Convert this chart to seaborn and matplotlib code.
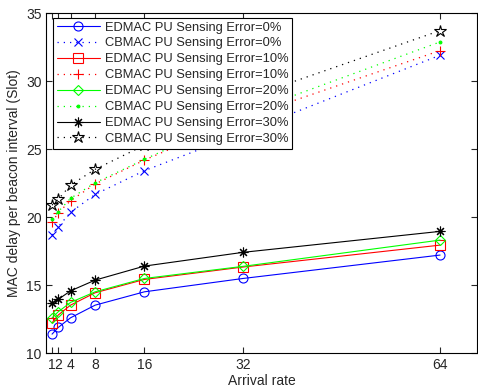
import matplotlib
matplotlib.use("Agg")
import matplotlib.pyplot as plt
import seaborn as sns
import pandas as pd

sns.set_style("ticks")
plt.rcParams["font.family"] = ["Liberation Sans", "DejaVu Sans"]

arrival_rate = [1, 2, 4, 8, 16, 32, 64]
x_ticks = [1, 2, 4, 8, 16, 32, 64]
y_ticks = [10, 15, 20, 25, 30, 35]

edmac_0 = [11.42, 11.91, 12.62, 13.55, 14.53, 15.51, 17.23]
cbmac_0 = [18.70, 19.31, 20.37, 21.69, 23.43, 26.22, 31.91]
edmac_10 = [12.25, 12.82, 13.55, 14.46, 15.44, 16.35, 17.96]
cbmac_10 = [19.63, 20.34, 21.22, 22.45, 24.21, 27.30, 32.25]
edmac_20 = [12.62, 13.06, 13.75, 14.53, 15.51, 16.40, 18.33]
cbmac_20 = [19.87, 20.41, 21.40, 22.54, 24.26, 27.58, 32.89]
edmac_30 = [13.68, 13.97, 14.60, 15.39, 16.42, 17.43, 18.97]
cbmac_30 = [20.90, 21.32, 22.37, 23.53, 25.30, 28.68, 33.72]

labels = [
    "EDMAC PU Sensing Error=0%", "CBMAC PU Sensing Error=0%",
    "EDMAC PU Sensing Error=10%", "CBMAC PU Sensing Error=10%",
    "EDMAC PU Sensing Error=20%", "CBMAC PU Sensing Error=20%",
    "EDMAC PU Sensing Error=30%", "CBMAC PU Sensing Error=30%",
]
series = [edmac_0, cbmac_0, edmac_10, cbmac_10, edmac_20, cbmac_20, edmac_30, cbmac_30]

blue, red, green, black = "#0000FF", "#FF0000", "#00FF00", "#000000"
asterisk = (8, 2, 0)
styles = [
    dict(color=blue, marker="o", ls="-", ms=6.5, filled=False),
    dict(color=blue, marker="x", ls="dot", ms=5.5, filled=False),
    dict(color=red, marker="s", ls="-", ms=6.5, filled=False),
    dict(color=red, marker="+", ls="dot", ms=7.5, filled=False),
    dict(color=green, marker="D", ls="-", ms=5.5, filled=False),
    dict(color=green, marker=".", ls="dot", ms=4, filled=True),
    dict(color=black, marker=asterisk, ls="-", ms=7, filled=False),
    dict(color=black, marker="*", ls="dot", ms=9, filled=False),
]

fig = plt.figure(figsize=(4.78, 3.88), dpi=100)
ax = fig.add_axes([0.096, 0.089, 0.902, 0.877])

for vals, lab, st in zip(series, labels, styles):
    df = pd.DataFrame({"rate": arrival_rate, "delay": vals})
    linestyle = "-" if st["ls"] == "-" else (0, (1, 4))
    lw = 0.8 if st["ls"] == "-" else 0.9
    sns.lineplot(
        data=df, x="rate", y="delay", ax=ax, label=lab,
        color=st["color"], linestyle=linestyle, linewidth=lw,
        marker=st["marker"], markersize=st["ms"],
        markerfacecolor=st["color"] if st["filled"] else "none",
        markeredgecolor=st["color"], markeredgewidth=0.8,
    )

ax.set_xlim(0, 70)
ax.set_ylim(10, 35)
ax.set_xticks(x_ticks)
ax.set_xticklabels([str(t) for t in x_ticks])
ax.set_yticks(y_ticks)
ax.tick_params(direction="in", length=4, width=0.8, labelsize=10,
               top=True, right=True, pad=3)
for sp in ax.spines.values():
    sp.set_linewidth(0.8)
    sp.set_color("black")

ax.set_xlabel("Arrival rate", fontsize=10, labelpad=2)
ax.set_ylabel("MAC delay per beacon interval (Slot)", fontsize=10, labelpad=4)

leg = ax.legend(loc="upper left", bbox_to_anchor=(0.017, 0.987), fontsize=9.3,
                frameon=True, fancybox=False, framealpha=1, edgecolor="black",
                handlelength=3.3, handletextpad=0.4, labelspacing=0.3,
                borderpad=0.3, borderaxespad=0)
leg.get_frame().set_linewidth(0.8)

fig.savefig("out.png", dpi=100)
